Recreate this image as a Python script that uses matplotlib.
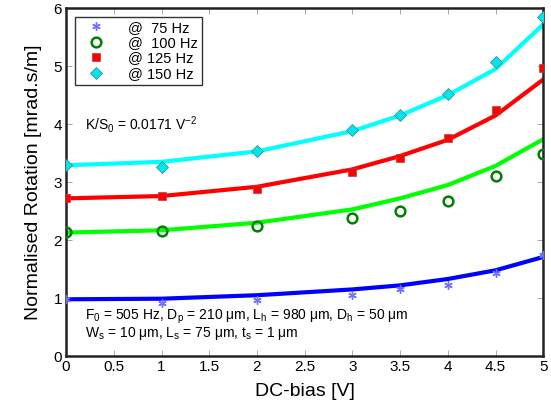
import matplotlib
matplotlib.use("Agg")
import matplotlib.pyplot as plt

plt.rcParams['font.family'] = ['Liberation Sans', 'DejaVu Sans']
plt.rcParams['mathtext.fontset'] = 'custom'
plt.rcParams['mathtext.rm'] = 'Liberation Sans'
plt.rcParams['mathtext.it'] = 'Liberation Sans'

x = [0, 1, 2, 3, 3.5, 4, 4.5, 5]

meas_75 = [0.98, 0.91, 0.97, 1.05, 1.15, 1.22, 1.43, 1.74]
meas_100 = [2.14, 2.16, 2.24, 2.38, 2.51, 2.68, 3.11, 3.48]
meas_125 = [2.73, 2.76, 2.88, 3.17, 3.41, 3.76, 4.24, 4.97]
meas_150 = [3.29, 3.26, 3.54, 3.90, 4.16, 4.52, 5.07, 5.84]

model_75 = [0.98, 0.99, 1.05, 1.15, 1.22, 1.33, 1.48, 1.71]
model_100 = [2.13, 2.17, 2.30, 2.53, 2.72, 2.95, 3.28, 3.74]
model_125 = [2.72, 2.76, 2.92, 3.22, 3.45, 3.73, 4.15, 4.77]
model_150 = [3.29, 3.35, 3.53, 3.88, 4.15, 4.50, 4.95, 5.72]

labels = ['@  75 Hz', '@  100 Hz', '@ 125 Hz', '@ 150 Hz']
xticks = [0, 0.5, 1, 1.5, 2, 2.5, 3, 3.5, 4, 4.5, 5]
xticklabels = ['0', '0.5', '1', '1.5', '2', '2.5', '3', '3.5', '4', '4.5', '5']
yticks = [0, 1, 2, 3, 4, 5, 6]

fig = plt.figure(figsize=(5.51, 4.07), dpi=100)
ax = fig.add_axes([0.12, 0.125, 0.866, 0.855])

ax.plot(x, model_75, color='#0000ff', lw=3, zorder=2)
ax.plot(x, model_100, color='#00ff00', lw=3, zorder=2)
ax.plot(x, model_125, color='#ff0000', lw=3, zorder=2)
ax.plot(x, model_150, color='#00ffff', lw=3, zorder=2)

h1, = ax.plot(x, meas_75, ls='none', marker=(6, 2, 0), ms=6, color='#7070ff',
              markeredgewidth=1.0, label=labels[0], zorder=3)
h2, = ax.plot(x, meas_100, ls='none', marker='o', ms=7, mfc='none',
              mec='#008000', mew=1.8, label=labels[1], zorder=3)
h3, = ax.plot(x, meas_125, ls='none', marker='s', ms=6, mfc='#ff0000',
              mec='#b04040', mew=0.5, label=labels[2], zorder=3)
h4, = ax.plot(x, meas_150, ls='none', marker='D', ms=6, mfc='#00e5ee',
              mec='#409090', mew=0.6, label=labels[3], zorder=3)

ax.set_xlim(0, 5)
ax.set_ylim(0, 6)
ax.set_xticks(xticks)
ax.set_xticklabels(xticklabels)
ax.set_yticks(yticks)
ax.tick_params(direction='in', length=4, width=0.6, labelsize=11, color='#999999',
               top=True, right=True, pad=3)
for s in ax.spines.values():
    s.set_linewidth(1.8)
    s.set_color('#222222')

ax.set_xlabel('DC-bias [V]', fontsize=14, labelpad=6)
ax.set_ylabel('Normalised Rotation [mrad.s/m]', fontsize=14, labelpad=8)

leg = ax.legend(handles=[h1, h2, h3, h4], loc='upper left', fontsize=10.5,
                frameon=True, fancybox=False, edgecolor='black',
                borderaxespad=0.6, handletextpad=1.0, labelspacing=0.1,
                borderpad=0.25, handlelength=2.4)
leg.get_frame().set_linewidth(1.0)

ax.text(0.2, 4.0, r'K/S$_0$ = 0.0171 V$^{-2}$', fontsize=10, va='center')
ax.text(0.2, 0.67, r'F$_0$ = 505 Hz, D$_p$ = 210 μm, L$_h$ = 980 μm, D$_h$ = 50 μm',
        fontsize=10, va='center')
ax.text(0.2, 0.39, r'W$_s$ = 10 μm, L$_s$ = 75 μm, t$_s$ = 1 μm',
        fontsize=10, va='center')

fig.savefig('out.png', dpi=100)
